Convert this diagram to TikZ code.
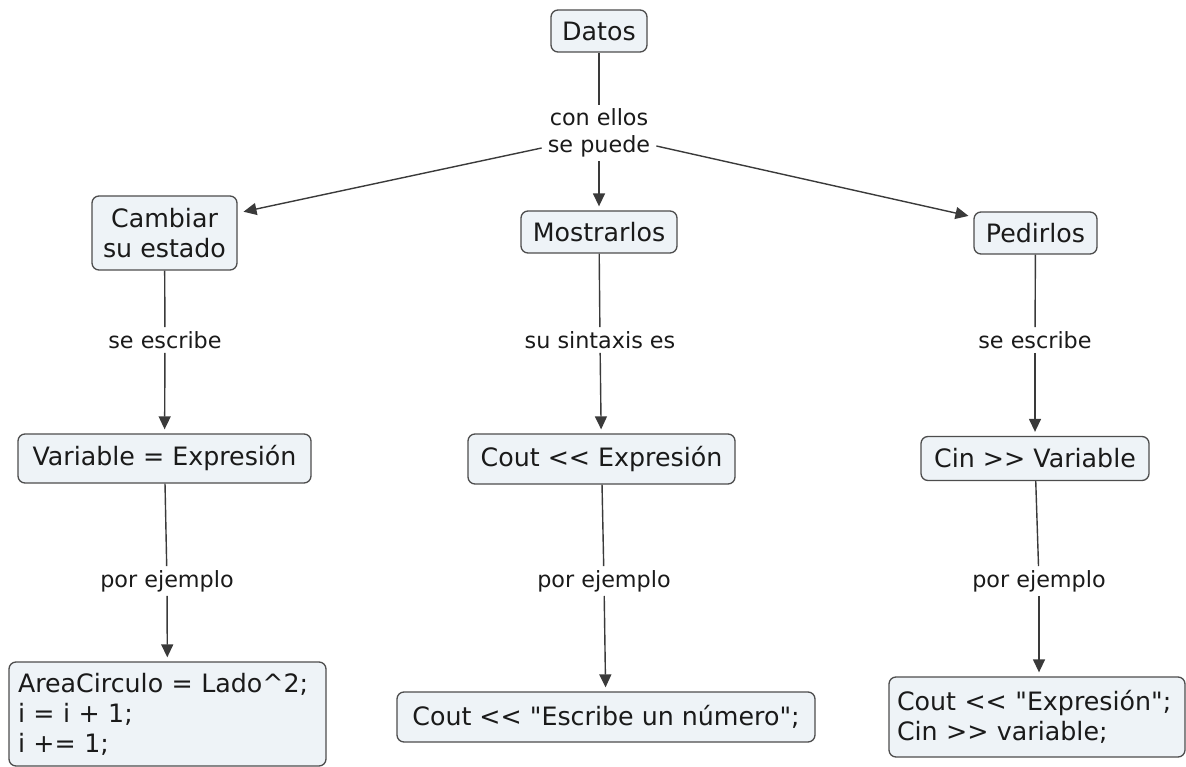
\documentclass[tikz,border=0pt]{standalone}
\usepackage{fontspec}
\setmainfont{DejaVu Sans}[Ligatures=TeXOff]
\usetikzlibrary{arrows.meta}
\definecolor{boxfill}{HTML}{EEF3F7}
\definecolor{boxline}{HTML}{4D4D4D}
\definecolor{txtcol}{HTML}{1A1A1A}
\definecolor{conncol}{HTML}{3A3A3A}
\newcommand\boxfont{\fontsize{25.3}{30}\selectfont}
\newcommand\lblfont{\fontsize{22.3}{27}\selectfont}
\begin{document}
\begin{tikzpicture}[x=1pt,y=-1pt,
  cbox/.style={draw=boxline, fill=boxfill, line width=1.3pt, rounded corners=7pt, inner sep=0pt, text=txtcol, font=\boxfont, align=center},
  lbl/.style={inner xsep=6pt, inner ysep=4pt, text=txtcol, font=\lblfont, align=center},
  connline/.style={draw=conncol, line width=1.4pt},
  arr/.style={connline, -{Triangle[length=13pt,width=12pt]}, shorten >=4pt}]
\useasboundingbox (0,0) rectangle (1186,767);
% concept boxes
\node[cbox, minimum width=96pt, minimum height=42pt] (datos) at (599,31) {Datos};
\node[cbox, minimum width=145pt, minimum height=74pt] (camb) at (164.5,233) {Cambiar\\su estado};
\node[cbox, minimum width=156pt, minimum height=42pt] (most) at (599,232) {Mostrarlos};
\node[cbox, minimum width=123pt, minimum height=42pt] (ped) at (1035.5,233) {Pedirlos};
\node[cbox, minimum width=293pt, minimum height=49pt] (var) at (164.5,458.5) {Variable = Expresión};
\node[cbox, minimum width=267pt, minimum height=50pt] (cout) at (601.5,459) {Cout << Expresión};
\node[cbox, minimum width=228pt, minimum height=44pt] (cin) at (1035,458.5) {Cin >> Variable};
\node[cbox, align=left, text width=299pt, inner xsep=9pt, minimum height=104pt] (area) at (167.5,714) {AreaCirculo = Lado\^{}2;\\i = i + 1;\\i += 1;};
\node[cbox, minimum width=418pt, minimum height=50pt] (coutn) at (606,717) {Cout << "Escribe un número";};
\node[cbox, align=left, text width=280pt, inner xsep=8pt, minimum height=80pt] (cinex) at (1037,717) {Cout << "Expresión";\\Cin >> variable;};
% linking phrases
\node[lbl] (conellos) at (599,133) {con ellos\\se puede};
\node[lbl] (se1) at (165,340) {se escribe};
\node[lbl] (sint) at (600,340) {su sintaxis es};
\node[lbl] (se2) at (1035,340) {se escribe};
\node[lbl] (por1) at (167,581) {por ejemplo};
\node[lbl] (por2) at (604,581) {por ejemplo};
\node[lbl] (por3) at (1039,581) {por ejemplo};
% connectors
\draw[connline] (datos) -- (conellos);
\draw[arr] (conellos) -- (most);
\draw[arr, shorten >=6pt] ([yshift=-15pt]conellos.west) -- ([yshift=20pt]camb.east);
\draw[arr, shorten >=5pt] ([yshift=-13pt]conellos.east) -- ([yshift=16pt]ped.west);
\draw[connline] (camb) -- (se1);
\draw[arr] (se1) -- (var);
\draw[connline] (most) -- (sint);
\draw[arr] (sint) -- (cout);
\draw[connline] (ped) -- (se2);
\draw[arr] (se2) -- (cin);
\draw[connline] (var) -- (por1);
\draw[arr] (por1) -- (area);
\draw[connline] (cout) -- (por2);
\draw[arr] (por2) -- (coutn);
\draw[connline] (cin) -- (por3);
\draw[arr] (por3) -- (por3 |- cinex.north);
\end{tikzpicture}
\end{document}
